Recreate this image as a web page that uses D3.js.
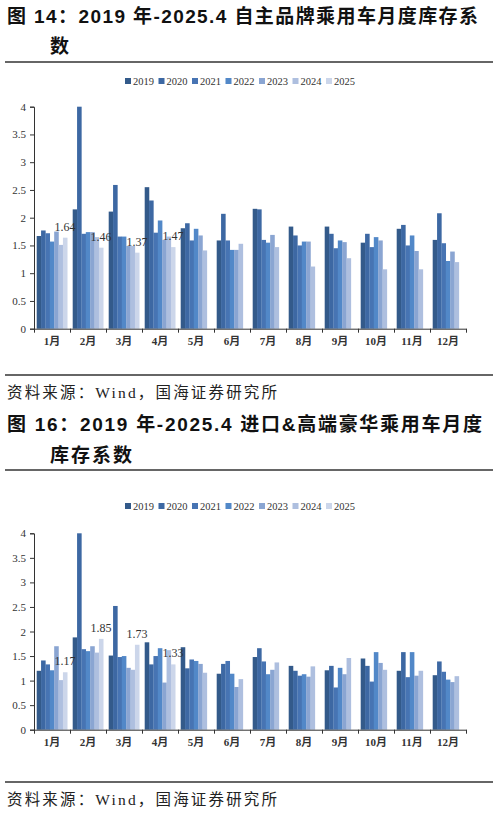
<!DOCTYPE html>
<html>
<head>
<meta charset="utf-8">
<script src="https://cdn.jsdelivr.net/npm/d3@7"></script>
<style>
  body { margin: 0; background: #fff; }
  svg { display: block; }
</style>
</head>
<body>
<svg id="page" width="498" height="813"></svg>
<script>
// 数据：月份与年份
const months = ['1月', '2月', '3月', '4月', '5月', '6月', '7月', '8月', '9月', '10月', '11月', '12月'];
const years = ['2019', '2020', '2021', '2022', '2023', '2024', '2025'];
const yTicks = [0, 0.5, 1, 1.5, 2, 2.5, 3, 3.5, 4];

// 图14 自主品牌
const own2019 = [1.67, 2.15, 2.11, 2.55, 1.81, 1.59, 2.16, 1.84, 1.84, 1.55, 1.80, 1.60];
const own2020 = [1.77, 4.00, 2.59, 2.31, 1.90, 2.07, 2.15, 1.68, 1.71, 1.71, 1.87, 2.08];
const own2021 = [1.72, 1.71, 1.66, 1.73, 1.59, 1.59, 1.60, 1.50, 1.45, 1.47, 1.50, 1.54];
const own2022 = [1.57, 1.74, 1.66, 1.95, 1.80, 1.42, 1.55, 1.57, 1.59, 1.65, 1.68, 1.22];
const own2023 = [1.75, 1.74, 1.49, 1.60, 1.68, 1.42, 1.69, 1.57, 1.56, 1.59, 1.40, 1.39];
const own2024 = [1.51, 1.65, 1.49, 1.66, 1.41, 1.53, 1.47, 1.12, 1.27, 1.07, 1.07, 1.20];
const own2025 = [1.64, 1.46, 1.37, 1.47];

// 图16 进口&高端豪华
const imp2019 = [1.20, 1.88, 1.51, 1.78, 1.68, 1.14, 1.48, 1.30, 1.21, 1.45, 1.20, 1.11];
const imp2020 = [1.41, 4.00, 2.52, 1.33, 1.25, 1.34, 1.66, 1.20, 1.30, 1.30, 1.58, 1.39];
const imp2021 = [1.33, 1.64, 1.48, 1.50, 1.43, 1.40, 1.39, 1.10, 0.86, 0.98, 1.07, 1.18];
const imp2022 = [1.21, 1.60, 1.50, 1.66, 1.40, 1.14, 1.13, 1.13, 1.26, 1.58, 1.58, 1.02];
const imp2023 = [1.70, 1.70, 1.26, 0.96, 1.34, 0.87, 1.22, 1.08, 1.13, 1.36, 1.10, 0.97];
const imp2024 = [1.01, 1.57, 1.22, 1.62, 1.16, 1.03, 1.37, 1.29, 1.46, 1.22, 1.20, 1.09];
const imp2025 = [1.17, 1.85, 1.73, 1.33];

const colors = ['#335a8a', '#3d68a3', '#4774b3', '#5288c8', '#8aa5d2', '#aebfdf', '#ccd6ea'];

const serif = '"Liberation Serif", "Noto Sans CJK SC", serif';
const titleFont = '"Liberation Sans", "Noto Sans CJK SC", sans-serif';

const svg = d3.select('#page');

function rule(y) {
    svg.append('line')
        .attr('x1', 5).attr('x2', 493)
        .attr('y1', y).attr('y2', y)
        .attr('stroke', '#333')
        .attr('stroke-width', 1.3);
}

function title(lines) {
    lines.forEach((l) => {
        const t = svg.append('text')
            .attr('x', l.x).attr('y', l.y)
            .attr('font-family', titleFont)
            .attr('font-weight', 'bold')
            .attr('font-size', 19)
            .attr('fill', '#111')
            .text(l.text);
        if (l.len) t.attr('textLength', l.len).attr('lengthAdjust', 'spacing');
    });
}

function source(y) {
    svg.append('text')
        .attr('x', 7).attr('y', y)
        .attr('font-family', serif)
        .attr('font-size', 15.5)
        .attr('fill', '#222')
        .attr('textLength', 270)
        .attr('lengthAdjust', 'spacing')
        .text('资料来源：Wind，国海证券研究所');
}

function legend(y) {
    const g = svg.append('g').attr('transform', `translate(125, ${y})`);
    const item = g.selectAll('g')
        .data(years)
        .enter()
        .append('g')
        .attr('transform', (d, i) => `translate(${i * 33.5}, 0)`);
    item.append('rect')
        .attr('x', 0).attr('y', -3)
        .attr('width', 6).attr('height', 6)
        .attr('fill', (d, i) => colors[i]);
    item.append('text')
        .attr('x', 8).attr('y', 3.8)
        .attr('font-family', serif)
        .attr('font-size', 10.5)
        .attr('fill', '#333')
        .text((d) => d);
}

function barChart(series, y0, y4, labelY) {
    const xScale = d3.scaleBand()
        .domain(months)
        .range([34, 466])
        .paddingInner(0.15)
        .paddingOuter(0.075);

    const inner = d3.scaleBand()
        .domain(years)
        .range([0, xScale.bandwidth()]);

    const yScale = d3.scaleLinear()
        .domain([0, 4])
        .range([y0, y4]);

    const rows = [];
    series.forEach((vals, si) => {
        vals.forEach((v, mi) => {
            rows.push({ month: months[mi], year: years[si], value: v, si: si });
        });
    });

    const chart = svg.append('g');

    chart.selectAll('rect')
        .data(rows)
        .enter()
        .append('rect')
        .attr('x', (d) => xScale(d.month) + inner(d.year))
        .attr('y', (d) => yScale(d.value))
        .attr('width', inner.bandwidth() + 0.2)
        .attr('height', (d) => yScale(0) - yScale(d.value))
        .attr('fill', (d) => colors[d.si]);

    // 2025 数值标签
    chart.selectAll('.lbl')
        .data(rows.filter((d) => d.year === '2025'))
        .enter()
        .append('text')
        .attr('class', 'lbl')
        .attr('x', (d) => xScale(d.month) + inner(d.year) + inner.bandwidth() / 2)
        .attr('y', (d) => yScale(d.value) - 7)
        .attr('text-anchor', 'middle')
        .attr('font-family', serif)
        .attr('font-size', 12)
        .attr('fill', '#333')
        .text((d) => d.value.toFixed(2));

    // y 轴
    const yAxis = chart.append('g')
        .attr('transform', 'translate(34, 0)')
        .call(d3.axisLeft(yScale).tickValues(yTicks).tickSize(4).tickFormat((d) => String(d)));
    yAxis.selectAll('text')
        .attr('font-family', serif)
        .attr('font-size', 11)
        .attr('fill', '#333')
        .attr('dx', '-1');
    yAxis.selectAll('line, path').attr('stroke', '#333');

    // x 轴：分隔刻度
    const edge = d3.scaleLinear().domain([0, 12]).range([34, 466]);
    const xAxis = chart.append('g')
        .attr('transform', `translate(0, ${y0})`)
        .call(d3.axisBottom(edge).tickValues(d3.range(13)).tickSize(4).tickSizeOuter(0).tickFormat(''));
    xAxis.selectAll('line, path').attr('stroke', '#333');

    // 月份标签
    chart.selectAll('.mon')
        .data(months)
        .enter()
        .append('text')
        .attr('class', 'mon')
        .attr('x', (d) => xScale(d) + xScale.bandwidth() / 2)
        .attr('y', labelY)
        .attr('text-anchor', 'middle')
        .attr('font-family', serif)
        .attr('font-size', 11)
        .attr('font-weight', 600)
        .attr('fill', '#333')
        .text((d) => d);
}

// 图 14
title([
    { x: 7, y: 23, text: '图 14：2019 年-2025.4 自主品牌乘用车月度库存系', len: 471 },
    { x: 50, y: 53, text: '数' }
]);
rule(62);
legend(81);
barChart([own2019, own2020, own2021, own2022, own2023, own2024, own2025], 328.7, 106.7, 345);
rule(375);
source(398);

// 图 16
title([
    { x: 7, y: 431, text: '图 16：2019 年-2025.4 进口&高端豪华乘用车月度', len: 475 },
    { x: 50, y: 462, text: '库存系数', len: 82 }
]);
rule(470);
legend(506);
barChart([imp2019, imp2020, imp2021, imp2022, imp2023, imp2024, imp2025], 729.7, 533.3, 746);
rule(782);
source(805);
</script>
</body>
</html>
